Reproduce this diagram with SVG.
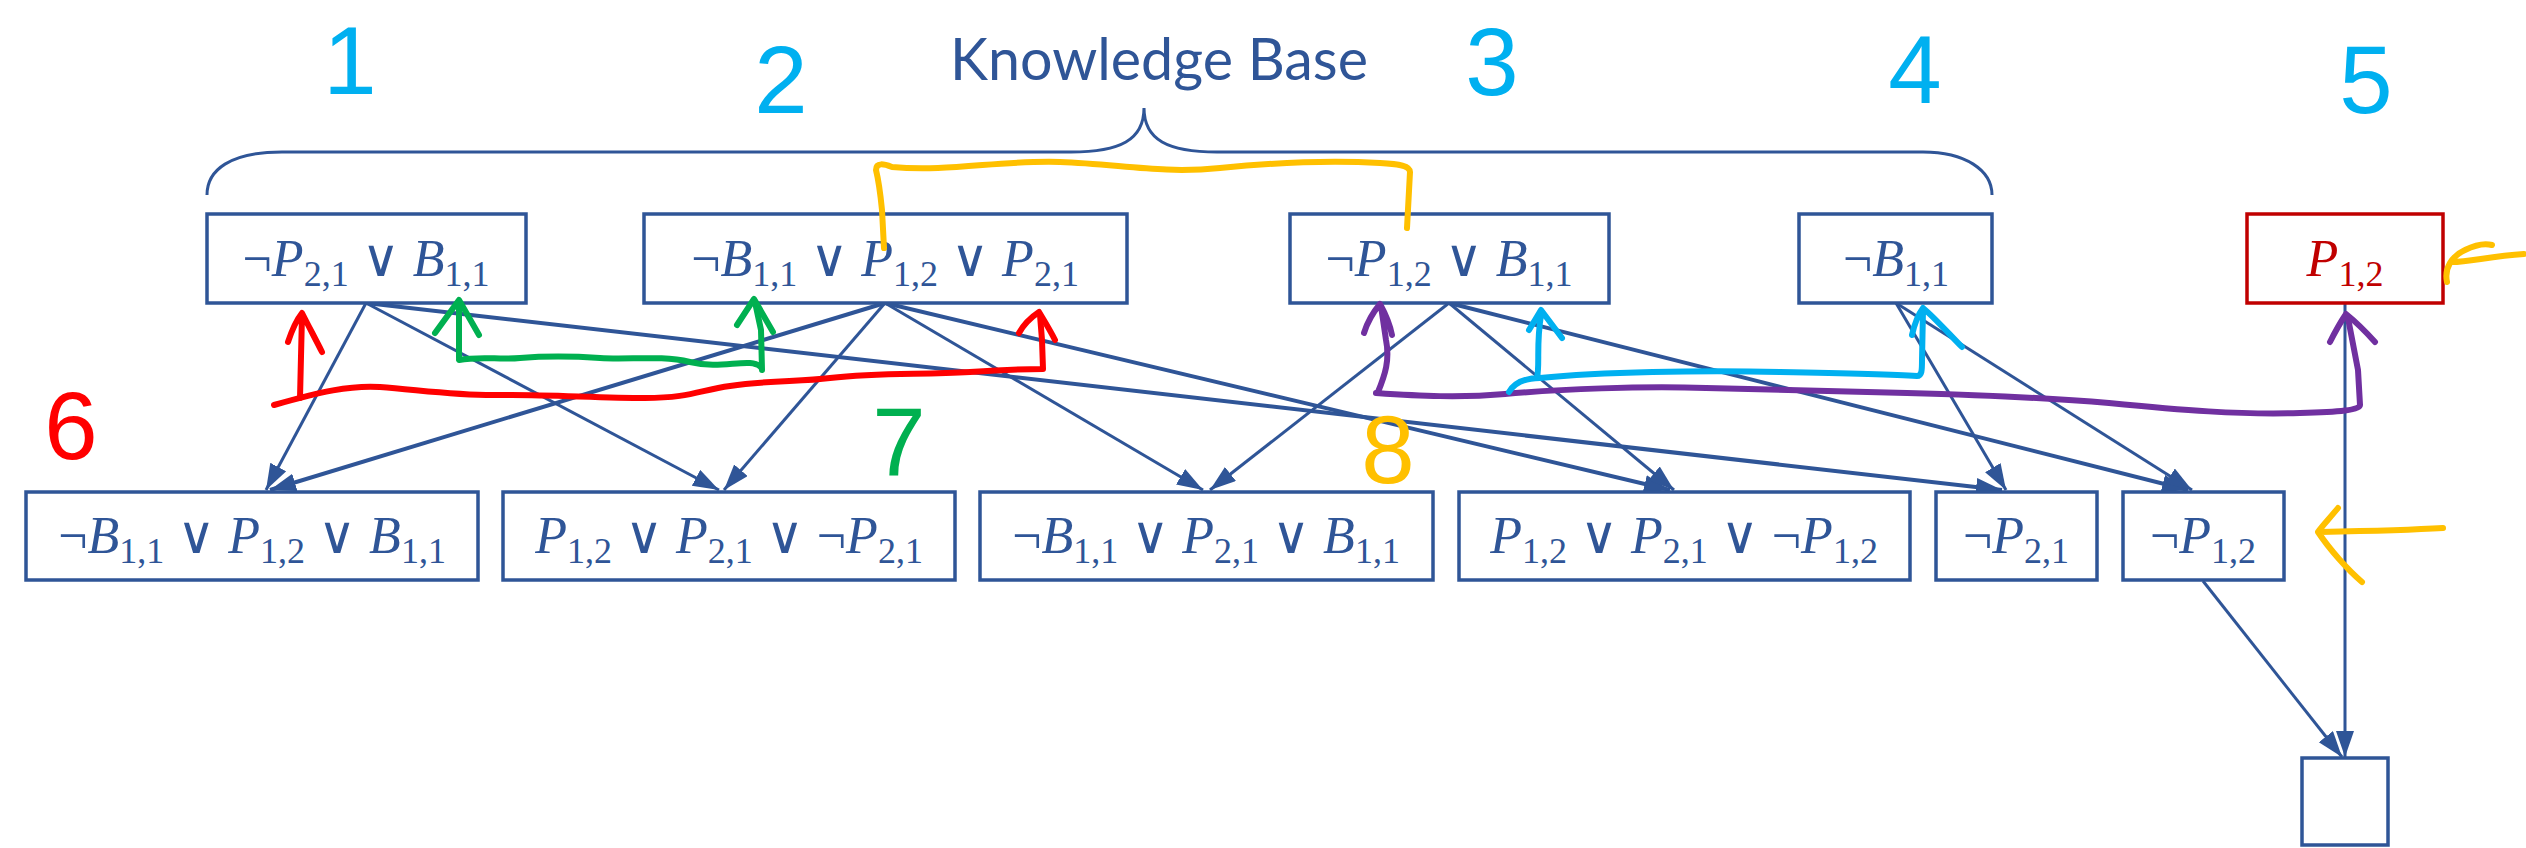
<svg xmlns="http://www.w3.org/2000/svg" width="2526" height="848" viewBox="0 0 2526 848">
<style>
.box{fill:#fff;stroke:#2F5597;stroke-width:3.5}
.red{fill:#fff;stroke:#C00000;stroke-width:3.5}
.m{font-family:"Liberation Serif","DejaVu Serif",serif;font-size:52px;fill:#2F5597}
.mr{font-family:"Liberation Serif","DejaVu Serif",serif;font-size:52px;fill:#C00000}
.i{font-style:italic}
.s{font-size:36px}
.c{fill:none;stroke:#2F5597;stroke-width:3}
.ct{fill:none;stroke:#2F5597;stroke-width:4}
.ink{fill:none;stroke-linecap:round;stroke-linejoin:round;stroke-width:6}
.dig{font-family:"Liberation Sans","DejaVu Sans",sans-serif;font-size:96px;text-anchor:middle}
</style>
<defs>
<marker id="ah" markerUnits="userSpaceOnUse" markerWidth="28" markerHeight="20" refX="26" refY="9" orient="auto">
<path d="M0,0 L26,9 L0,18 z" fill="#2F5597"/>
</marker>
</defs>
<rect width="2526" height="848" fill="#fff"/>

<g id="title">
<text x="1159" y="80" font-family="Lato,'Liberation Sans',sans-serif" font-size="58" fill="#2F5597" text-anchor="middle" textLength="418" lengthAdjust="spacingAndGlyphs">Knowledge Base</text>
<path d="M207,195 C207,170 230,152 282,152 L1071,152 C1120,152 1144,140 1144,108 C1144,140 1168,152 1217,152 L1923,152 C1965,152 1992,170 1992,195" fill="none" stroke="#2F5597" stroke-width="3"/>
</g>

<g id="connectors">
<line class="c" x1="366" y1="303" x2="266" y2="490" marker-end="url(#ah)"/>
<line class="c" x1="366" y1="303" x2="719" y2="490" marker-end="url(#ah)"/>
<line class="ct" x1="366" y1="303" x2="2002" y2="490" marker-end="url(#ah)"/>
<line class="ct" x1="885" y1="303" x2="270" y2="490" marker-end="url(#ah)"/>
<line class="c" x1="885" y1="303" x2="724" y2="490" marker-end="url(#ah)"/>
<line class="c" x1="885" y1="303" x2="1203" y2="490" marker-end="url(#ah)"/>
<line class="ct" x1="885" y1="303" x2="1670" y2="490" marker-end="url(#ah)"/>
<line class="c" x1="1449" y1="303" x2="1210" y2="490" marker-end="url(#ah)"/>
<line class="c" x1="1449" y1="303" x2="1674" y2="490" marker-end="url(#ah)"/>
<line class="ct" x1="1449" y1="303" x2="2188" y2="490" marker-end="url(#ah)"/>
<line class="c" x1="1896" y1="303" x2="2006" y2="490" marker-end="url(#ah)"/>
<line class="c" x1="1896" y1="303" x2="2192" y2="490" marker-end="url(#ah)"/>
<line class="c" x1="2203" y1="581" x2="2342" y2="757" marker-end="url(#ah)"/>
<line class="c" x1="2345" y1="303" x2="2345" y2="757" marker-end="url(#ah)"/>
</g>

<g id="B1"><rect class="box" x="207" y="214" width="319" height="89"/>
<text class="m" x="366" y="276" text-anchor="middle">¬<tspan class="i">P</tspan><tspan class="s" dy="10">2,1</tspan><tspan dy="-10"> ∨ </tspan><tspan class="i">B</tspan><tspan class="s" dy="10">1,1</tspan></text></g>
<g id="B2"><rect class="box" x="644" y="214" width="483" height="89"/>
<text class="m" x="885" y="276" text-anchor="middle">¬<tspan class="i">B</tspan><tspan class="s" dy="10">1,1</tspan><tspan dy="-10"> ∨ </tspan><tspan class="i">P</tspan><tspan class="s" dy="10">1,2</tspan><tspan dy="-10"> ∨ </tspan><tspan class="i">P</tspan><tspan class="s" dy="10">2,1</tspan></text></g>
<g id="B3"><rect class="box" x="1290" y="214" width="319" height="89"/>
<text class="m" x="1449" y="276" text-anchor="middle">¬<tspan class="i">P</tspan><tspan class="s" dy="10">1,2</tspan><tspan dy="-10"> ∨ </tspan><tspan class="i">B</tspan><tspan class="s" dy="10">1,1</tspan></text></g>
<g id="B4"><rect class="box" x="1799" y="214" width="193" height="89"/>
<text class="m" x="1896" y="276" text-anchor="middle">¬<tspan class="i">B</tspan><tspan class="s" dy="10">1,1</tspan></text></g>
<g id="B5"><rect class="red" x="2247" y="214" width="196" height="89"/>
<text class="mr" x="2345" y="276" text-anchor="middle"><tspan class="i">P</tspan><tspan class="s" dy="10">1,2</tspan></text></g>

<g id="C1"><rect class="box" x="26" y="492" width="452" height="88"/>
<text class="m" x="252" y="553" text-anchor="middle">¬<tspan class="i">B</tspan><tspan class="s" dy="10">1,1</tspan><tspan dy="-10"> ∨ </tspan><tspan class="i">P</tspan><tspan class="s" dy="10">1,2</tspan><tspan dy="-10"> ∨ </tspan><tspan class="i">B</tspan><tspan class="s" dy="10">1,1</tspan></text></g>
<g id="C2"><rect class="box" x="503" y="492" width="452" height="88"/>
<text class="m" x="729" y="553" text-anchor="middle"><tspan class="i">P</tspan><tspan class="s" dy="10">1,2</tspan><tspan dy="-10"> ∨ </tspan><tspan class="i">P</tspan><tspan class="s" dy="10">2,1</tspan><tspan dy="-10"> ∨ ¬</tspan><tspan class="i">P</tspan><tspan class="s" dy="10">2,1</tspan></text></g>
<g id="C3"><rect class="box" x="980" y="492" width="453" height="88"/>
<text class="m" x="1206" y="553" text-anchor="middle">¬<tspan class="i">B</tspan><tspan class="s" dy="10">1,1</tspan><tspan dy="-10"> ∨ </tspan><tspan class="i">P</tspan><tspan class="s" dy="10">2,1</tspan><tspan dy="-10"> ∨ </tspan><tspan class="i">B</tspan><tspan class="s" dy="10">1,1</tspan></text></g>
<g id="C4"><rect class="box" x="1459" y="492" width="451" height="88"/>
<text class="m" x="1684" y="553" text-anchor="middle"><tspan class="i">P</tspan><tspan class="s" dy="10">1,2</tspan><tspan dy="-10"> ∨ </tspan><tspan class="i">P</tspan><tspan class="s" dy="10">2,1</tspan><tspan dy="-10"> ∨ ¬</tspan><tspan class="i">P</tspan><tspan class="s" dy="10">1,2</tspan></text></g>
<g id="C5"><rect class="box" x="1936" y="492" width="161" height="88"/>
<text class="m" x="2016" y="553" text-anchor="middle">¬<tspan class="i">P</tspan><tspan class="s" dy="10">2,1</tspan></text></g>
<g id="C6"><rect class="box" x="2123" y="492" width="161" height="88"/>
<text class="m" x="2203" y="553" text-anchor="middle">¬<tspan class="i">P</tspan><tspan class="s" dy="10">1,2</tspan></text></g>
<g id="E"><rect class="box" x="2302" y="758" width="86" height="87"/></g>

<g id="annotations">
<text class="dig" x="350" y="94" fill="#00B0F0">1</text>
<text class="dig" x="781" y="113" fill="#00B0F0">2</text>
<text class="dig" x="1492" y="95" fill="#00B0F0">3</text>
<text class="dig" x="1915" y="103" fill="#00B0F0">4</text>
<text class="dig" x="2366" y="113" fill="#00B0F0">5</text>
<text class="dig" x="71" y="459" fill="#FF0000" font-size="120">6</text>
<text class="dig" x="899" y="475" fill="#00B050" font-size="104">7</text>
<text class="dig" x="1388" y="483" fill="#FFC000" font-size="130">8</text>

<path class="ink" stroke="#FFC000" d="M884,248 L882,210 C880,190 878,178 876,170 C876,162 884,164 892,167 C950,172 1000,160 1060,162 C1120,164 1160,174 1220,168 C1280,162 1330,160 1380,163 C1400,164 1410,166 1410,172 L1407,228"/>
<path class="ink" stroke="#FFC000" d="M2447,282 C2444,268 2452,256 2465,250 C2475,245 2485,243 2492,245 M2452,262 C2470,262 2490,256 2524,254"/>
<path class="ink" stroke="#FFC000" d="M2443,528 C2410,530 2370,531 2320,532 M2338,508 C2330,518 2322,526 2318,532 C2330,550 2348,570 2362,582"/>

<path class="ink" stroke="#FF0000" d="M274,405 C320,392 350,385 380,387 C420,390 460,396 500,395 C540,394 600,398 645,398 C690,398 700,390 730,386 C770,380 800,382 830,378 C880,372 920,375 970,372 C1000,370 1030,369 1043,369 L1042,340 L1040,315"/>
<path class="ink" stroke="#FF0000" d="M300,398 L302,315 M288,342 C292,330 298,318 302,313 C308,325 316,340 322,352"/>
<path class="ink" stroke="#FF0000" d="M1019,333 C1025,322 1033,316 1039,312 C1045,322 1050,330 1055,340"/>

<path class="ink" stroke="#00B050" d="M459,360 C480,356 500,360 520,358 C545,356 570,356 600,358 C630,360 660,355 690,362 C715,368 735,362 750,363 C760,364 762,368 762,370 L761,330 L755,302"/>
<path class="ink" stroke="#00B050" d="M459,358 L459,302 M435,333 L459,300 L479,335 M737,325 L754,299 L773,332"/>

<path class="ink" stroke="#7030A0" d="M1376,393 C1420,396 1460,398 1505,394 C1560,389 1640,386 1706,388 C1780,390 1850,392 1907,393 C1980,395 2050,398 2109,403 C2180,410 2240,415 2300,413 C2340,412 2360,410 2360,405 L2358,370 L2348,318"/>
<path class="ink" stroke="#7030A0" d="M1378,392 C1385,375 1390,360 1386,340 L1381,306 M1364,333 C1368,320 1375,310 1380,304 C1386,315 1390,325 1392,335 M2330,342 C2336,330 2342,320 2346,314 C2356,322 2366,332 2375,342"/>

<path class="ink" stroke="#00B0F0" stroke-width="4.5" d="M1509,392 C1515,382 1525,378 1540,378 C1600,372 1700,370 1780,372 C1840,373 1890,374 1917,376 C1922,376 1922,370 1922,360 L1923,310 M1537,378 C1540,365 1536,345 1541,315 M1529,330 L1541,310 L1562,338 M1912,335 C1915,322 1920,312 1923,308 C1935,318 1950,335 1962,347"/>
</g>
</svg>
